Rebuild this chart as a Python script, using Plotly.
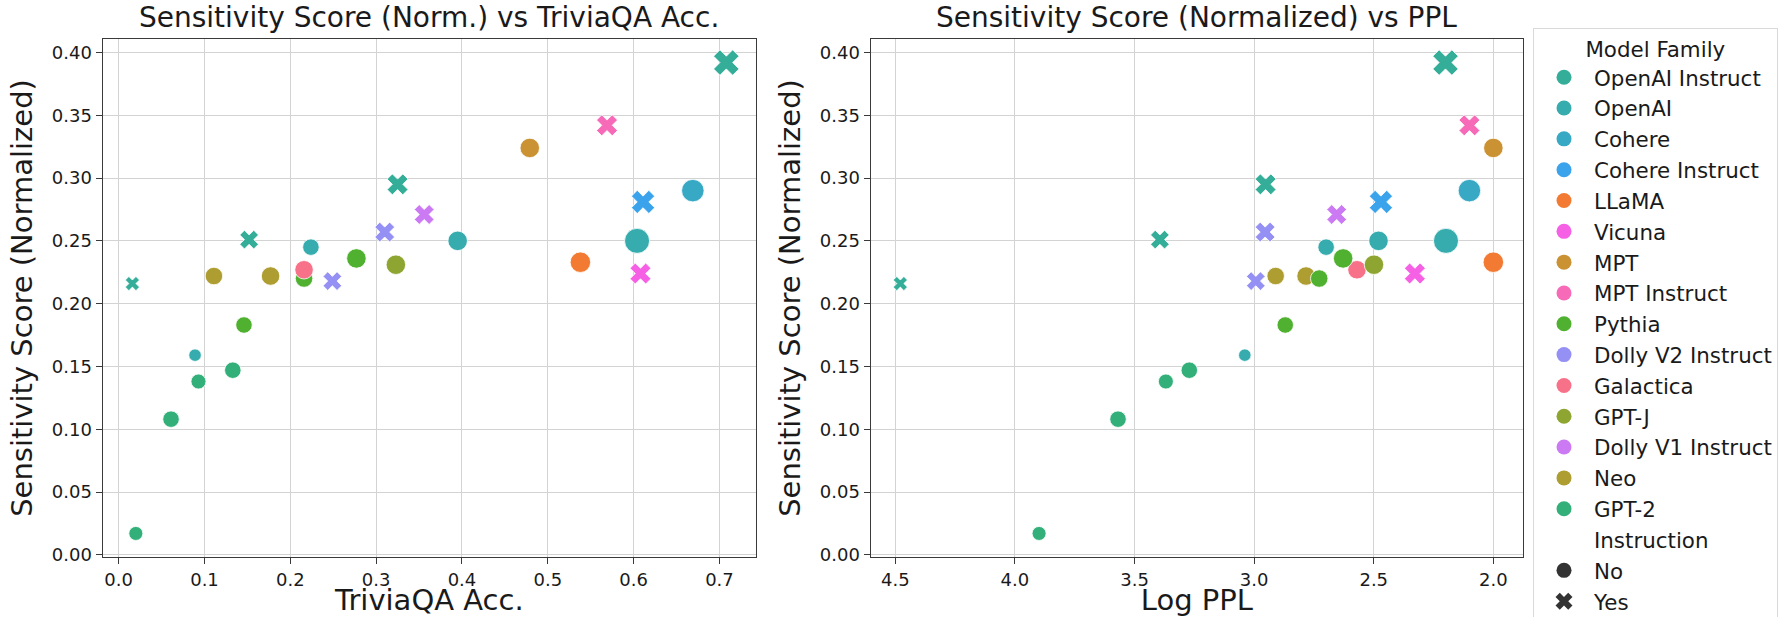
import math
import plotly.graph_objects as go

# ---------------- data ----------------
family = ["GPT-2", "GPT-2", "GPT-2", "GPT-2", "OpenAI", "Pythia", "OpenAI Instruct",
          "Neo", "Neo", "Pythia", "Galactica", "OpenAI", "Dolly V2 Instruct", "Pythia",
          "GPT-J", "Dolly V2 Instruct", "OpenAI Instruct", "OpenAI Instruct",
          "Dolly V1 Instruct", "OpenAI", "MPT", "MPT Instruct", "LLaMA", "OpenAI",
          "Vicuna", "Cohere Instruct", "Cohere", "OpenAI Instruct"]
instruction = ["No", "No", "No", "No", "No", "No", "Yes",
               "No", "No", "No", "No", "No", "Yes", "No",
               "No", "Yes", "Yes", "Yes",
               "Yes", "No", "No", "Yes", "No", "No",
               "Yes", "Yes", "No", "Yes"]
sensitivity = [0.017, 0.108, 0.138, 0.147, 0.159, 0.183, 0.216,
               0.222, 0.222, 0.220, 0.227, 0.245, 0.218, 0.236,
               0.231, 0.257, 0.251, 0.295,
               0.271, 0.250, 0.324, 0.342, 0.233, 0.250,
               0.224, 0.281, 0.290, 0.392]
triviaqa_acc = [0.020, 0.061, 0.093, 0.133, 0.089, 0.146, 0.016,
                0.111, 0.177, 0.216, 0.216, 0.224, 0.249, 0.277,
                0.323, 0.310, 0.152, 0.325,
                0.356, 0.395, 0.479, 0.569, 0.538, 0.604,
                0.608, 0.611, 0.669, 0.708]
log_ppl = [3.899, 3.569, 3.369, 3.271, 3.039, 2.870, 4.479,
           2.910, 2.783, 2.728, 2.570, 2.699, 2.993, 2.628,
           2.499, 2.954, 3.394, 2.952,
           2.655, 2.480, 2.000, 2.100, 2.000, 2.198,
           2.328, 2.470, 2.100, 2.200]
# relative model scale (drives marker size)
model_scale = [1.2, 2.2, 1.6, 2.2, 0.6, 2.2, 0.6,
               2.6, 3.0, 2.6, 3.0, 2.2, 2.2, 3.4,
               3.4, 2.6, 2.2, 3.0,
               2.6, 3.4, 3.4, 3.0, 3.8, 5.6,
               3.0, 3.8, 4.6, 4.6]

family_order = ["OpenAI Instruct", "OpenAI", "Cohere", "Cohere Instruct", "LLaMA",
                "Vicuna", "MPT", "MPT Instruct", "Pythia", "Dolly V2 Instruct",
                "Galactica", "GPT-J", "Dolly V1 Instruct", "Neo", "GPT-2"]
# index into a 15-colour husl palette for each family
family_hue_index = {"Galactica": 0, "LLaMA": 1, "MPT": 2, "Neo": 3, "GPT-J": 4,
                    "Pythia": 5, "GPT-2": 6, "OpenAI Instruct": 7, "OpenAI": 8,
                    "Cohere": 9, "Cohere Instruct": 10, "Dolly V2 Instruct": 11,
                    "Dolly V1 Instruct": 12, "Vicuna": 13, "MPT Instruct": 14}

x_ticks_acc = [0.0, 0.1, 0.2, 0.3, 0.4, 0.5, 0.6, 0.7]
x_ticks_ppl = [4.5, 4.0, 3.5, 3.0, 2.5, 2.0]
y_ticks = [0.00, 0.05, 0.10, 0.15, 0.20, 0.25, 0.30, 0.35, 0.40]

# ---------------- husl palette (as seaborn) ----------------
M = [[3.2406, -1.5372, -0.4986], [-0.9689, 1.8758, 0.0415], [0.0557, -0.2040, 1.0570]]
REF_U, REF_V = 0.19784, 0.46834


def _max_chroma(L, H):
    hr = math.radians(H)
    sinH, cosH = math.sin(hr), math.cos(hr)
    sub1 = (L + 16) ** 3 / 1560896.0
    sub2 = sub1 if sub1 > 0.008856 else L / 903.3
    res = float("inf")
    for m1, m2, m3 in M:
        top = (0.99915 * m1 + 1.05122 * m2 + 1.14460 * m3) * sub2
        rb = 0.86330 * m3 - 0.17266 * m2
        lb = 0.12949 * m3 - 0.38848 * m1
        bottom = (rb * sinH + lb * cosH) * sub2
        for t in (0.0, 1.0):
            C = L * (top - 1.05122 * t) / (bottom + 0.17266 * sinH * t)
            if 0 < C < res:
                res = C
    return res


def _husl_to_hex(H, S, L):
    C = _max_chroma(L, H) / 100.0 * S
    hr = math.radians(H)
    U, V = C * math.cos(hr), C * math.sin(hr)
    t = (L + 16) / 116.0
    Y = t ** 3 if t ** 3 > 0.008856 else (116 * t - 16) / 903.3
    vu = U / (13 * L) + REF_U
    vv = V / (13 * L) + REF_V
    X = 0 - (9 * Y * vu) / ((vu - 4) * vv - vu * vv)
    Z = (9 * Y - 15 * vv * Y - vv * X) / (3 * vv)
    out = []
    for r in M:
        c = r[0] * X + r[1] * Y + r[2] * Z
        c = 12.92 * c if c <= 0.0031308 else 1.055 * c ** (1 / 2.4) - 0.055
        out.append(int(round(max(0, min(1, c)) * 255)))
    return "#%02x%02x%02x" % tuple(out)


def husl_palette(n, h=0.01, s=0.9, l=0.65):
    return [_husl_to_hex(((k / n + h) % 1) * 359, s * 99, l * 99) for k in range(n)]


palette = husl_palette(15)
color_of = {f: palette[i] for f, i in family_hue_index.items()}

FONT = "DejaVu Sans"
W, H = 1778, 617

fig = go.Figure()


def marker_px(s):
    return 11 + 2.5 * s


def pad(vals):
    lo, hi = min(vals), max(vals)
    m = (hi - lo) * 0.05
    return lo - m, hi + m


for i in range(len(family)):
    sym = "circle" if instruction[i] == "No" else "x"
    mk = dict(color=color_of[family[i]], size=marker_px(model_scale[i]), symbol=sym,
              line=dict(color="white", width=0.8))
    fig.add_trace(go.Scatter(x=[triviaqa_acc[i]], y=[sensitivity[i]], mode="markers",
                             marker=mk, showlegend=False, xaxis="x", yaxis="y",
                             hoverinfo="skip"))
    fig.add_trace(go.Scatter(x=[log_ppl[i]], y=[sensitivity[i]], mode="markers",
                             marker=mk, showlegend=False, xaxis="x2", yaxis="y2",
                             hoverinfo="skip"))

# legend entries
for f in family_order:
    fig.add_trace(go.Scatter(x=[None], y=[None], mode="markers", name=f,
                             marker=dict(color=color_of[f], size=15, symbol="circle"),
                             xaxis="x2", yaxis="y2"))
fig.add_trace(go.Scatter(x=[None], y=[None], mode="markers", name="Instruction",
                         marker=dict(color="rgba(0,0,0,0)", size=15), xaxis="x2", yaxis="y2"))
fig.add_trace(go.Scatter(x=[None], y=[None], mode="markers", name="No",
                         marker=dict(color="#333333", size=15, symbol="circle"),
                         xaxis="x2", yaxis="y2"))
fig.add_trace(go.Scatter(x=[None], y=[None], mode="markers", name="Yes",
                         marker=dict(color="#333333", size=15, symbol="x"),
                         xaxis="x2", yaxis="y2"))

axis_common = dict(showgrid=True, gridcolor="#d3d3d3", gridwidth=1, showline=True,
                   linecolor="#3a3a3a", linewidth=1.3, mirror=True, ticks="outside",
                   ticklen=6, tickwidth=1.2, tickcolor="#3a3a3a", zeroline=False,
                   tickfont=dict(family=FONT, size=18, color="#1a1a1a"))

ylo, yhi = pad(sensitivity)
alo, ahi = pad(triviaqa_acc)
plo, phi = pad(log_ppl)

fig.update_layout(
    width=W, height=H,
    margin=dict(l=0, r=0, t=0, b=0, autoexpand=False),
    paper_bgcolor="white", plot_bgcolor="white",
    font=dict(family=FONT, color="#1a1a1a"),
    xaxis=dict(domain=[102.7 / W, 756 / W], range=[alo, ahi], tickvals=x_ticks_acc,
               ticktext=["%.1f" % v for v in x_ticks_acc],
               title=dict(text="TriviaQA Acc.", font=dict(size=29), standoff=11),
               anchor="y", **axis_common),
    yaxis=dict(domain=[1 - 557 / H, 1 - 39 / H], range=[ylo, yhi], tickvals=y_ticks,
               ticktext=["%.2f" % v for v in y_ticks],
               title=dict(text="Sensitivity Score (Normalized)", font=dict(size=29), standoff=10),
               anchor="x", **axis_common),
    xaxis2=dict(domain=[870.7 / W, 1523 / W], range=[phi, plo], tickvals=x_ticks_ppl,
                ticktext=["%.1f" % v for v in x_ticks_ppl],
                title=dict(text="Log PPL", font=dict(size=29), standoff=11),
                anchor="y2", **axis_common),
    yaxis2=dict(domain=[1 - 557 / H, 1 - 39 / H], range=[ylo, yhi], tickvals=y_ticks,
                ticktext=["%.2f" % v for v in y_ticks],
                title=dict(text="Sensitivity Score (Normalized)", font=dict(size=29), standoff=10),
                anchor="x2", **axis_common),
    legend=dict(x=1533 / W, y=1 - 28 / H, xanchor="left", yanchor="top",
                bgcolor="white", bordercolor="#d9d9d9", borderwidth=1,
                font=dict(family=FONT, size=21.4, color="#1a1a1a"),
                itemwidth=50, tracegroupgap=0,
                title=dict(text="Model Family", side="top center",
                           font=dict(family=FONT, size=21.4))),
    annotations=[
        dict(text="Sensitivity Score (Norm.) vs TriviaQA Acc.", xref="paper", yref="paper",
             x=(102.7 + 756) / 2 / W, y=1 - 36 / H, xanchor="center", yanchor="bottom",
             showarrow=False, font=dict(family=FONT, size=28)),
        dict(text="Sensitivity Score (Normalized) vs PPL", xref="paper", yref="paper",
             x=(870.7 + 1523) / 2 / W, y=1 - 36 / H, xanchor="center", yanchor="bottom",
             showarrow=False, font=dict(family=FONT, size=28)),
    ],
)

fig.write_html("out.html", config={"displayModeBar": False},
               post_script="document.body.style.margin='0';document.body.style.overflow='hidden';")
